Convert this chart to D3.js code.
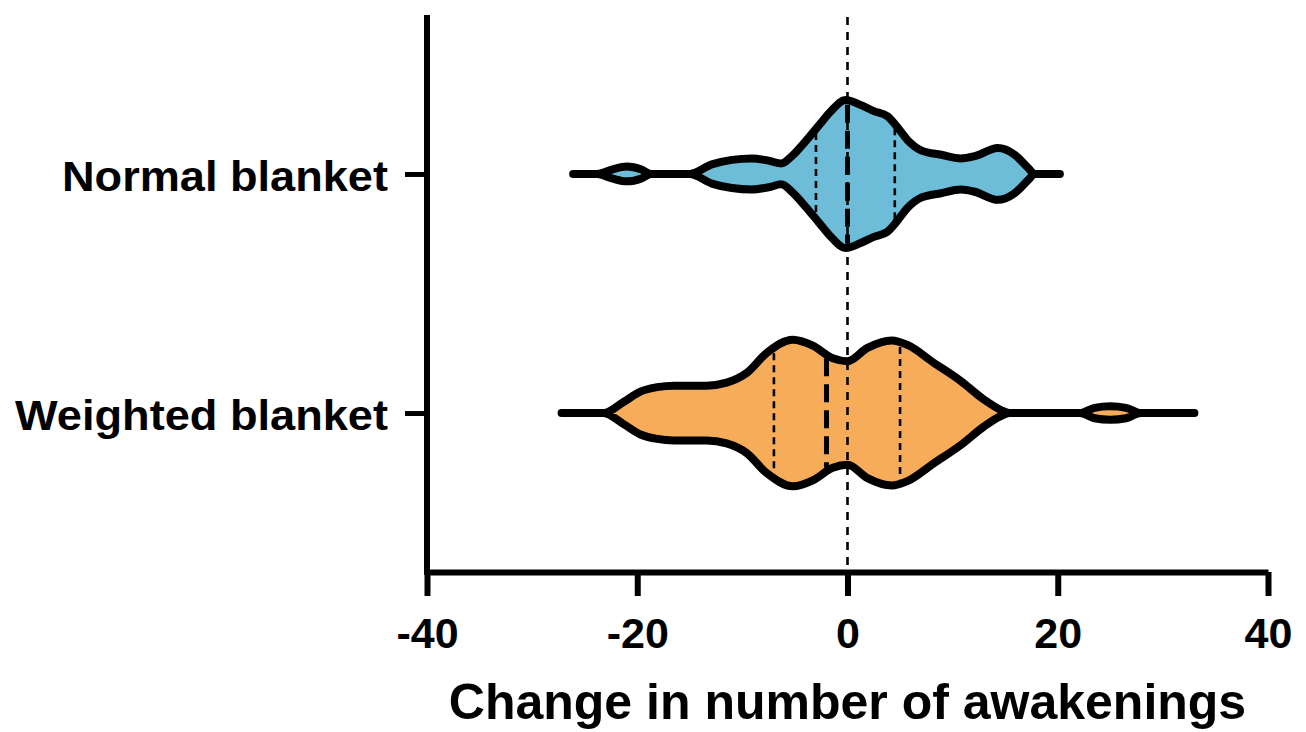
<!DOCTYPE html>
<html>
<head>
<meta charset="utf-8">
<script src="https://cdn.jsdelivr.net/npm/d3@7"></script>
<style>
  html, body { margin: 0; padding: 0; background: #fff; }
  svg { display: block; }
  text { font-family: "Liberation Sans", Arial, Helvetica, sans-serif; font-weight: bold; fill: #000; }
</style>
</head>
<body>
<svg id="chart" width="1306" height="732"></svg>
<script>
// ---------- data ----------
const categories = ["Normal blanket", "Weighted blanket"];
const xTicks = [-40, -20, 0, 20, 40];
const xTitle = "Change in number of awakenings";

// violin density profiles (value, relative density)
const normalPos     = [-26.1, -23.8, -22.4, -21.0, -19.6, -18.7, -15.0, -12.9, -11.0, -9.1, -7.5, -6.3, -5.3, -4.0, -2.7, -1.5, -0.2, 1.3, 2.5, 3.8, 4.7, 5.7, 7.0, 8.9, 10.8, 12.1, 14.3, 15.9, 17.2, 17.8, 20.2];
const normalDensity = [0, 0, 0.06, 0.10, 0.06, 0, 0, 0.13, 0.19, 0.21, 0.18, 0.14, 0.24, 0.44, 0.66, 0.86, 1.00, 0.93, 0.85, 0.78, 0.64, 0.46, 0.32, 0.26, 0.21, 0.24, 0.35, 0.26, 0.08, 0, 0];
const weightedPos     = [-27.2, -23.2, -21.3, -19.7, -18.1, -16.5, -13.4, -11.5, -9.6, -7.7, -5.2, -3.3, -1.4, 0, 1.9, 4.2, 5.7, 8.2, 10.8, 13.0, 14.6, 15.4, 22.1, 23.5, 25.0, 26.5, 27.9, 33.0];
const weightedDensity = [0, 0, 0.15, 0.29, 0.35, 0.37, 0.37, 0.41, 0.54, 0.81, 0.99, 0.91, 0.74, 0.70, 0.88, 0.98, 0.92, 0.68, 0.43, 0.18, 0.04, 0, 0, 0.07, 0.09, 0.07, 0, 0];

// quartiles: [Q1, median, Q3]
const normalQuartiles = [-3, 0, 4.5];
const weightedQuartiles = [-7, -2, 5];

const series = [
  { name: categories[0], pos: normalPos, dens: normalDensity, q: normalQuartiles, color: "#6EBDD8" },
  { name: categories[1], pos: weightedPos, dens: weightedDensity, q: weightedQuartiles, color: "#F7AC5A" }
];

// ---------- layout ----------
const svg = d3.select("#chart");
const mLeft = 427, mRight = 1268, mTop = 15, mBottom = 572;
const outline = 8;

const x = d3.scaleLinear().domain([-40, 40]).range([mLeft, mRight]);
const y = d3.scalePoint().domain(categories).range([mTop, mBottom]).padding(0.665);
const w = d3.scaleLinear().domain([0, 1]).range([0, 74]);

function densAt(pos, dens, v) {
  const i = d3.bisectLeft(pos, v);
  if (i <= 0) return dens[0];
  if (i >= pos.length) return dens[dens.length - 1];
  const t = (v - pos[i - 1]) / (pos[i] - pos[i - 1]);
  return dens[i - 1] + t * (dens[i] - dens[i - 1]);
}

// violins
series.forEach(s => {
  const cy = y(s.name);
  const pts = s.pos.map((p, i) => [p, s.dens[i]]);
  const area = d3.area()
    .x(d => x(d[0]))
    .y0(d => cy + w(d[1]))
    .y1(d => cy - w(d[1]))
    .curve(d3.curveMonotoneX);
  svg.append("path")
    .attr("d", area(pts))
    .attr("fill", s.color)
    .attr("stroke", "#000")
    .attr("stroke-width", outline)
    .attr("stroke-linejoin", "round")
    .attr("stroke-linecap", "round");

  s.q.forEach((qv, qi) => {
    const hw = Math.max(0, w(densAt(s.pos, s.dens, qv)) - outline / 2);
    const isMed = qi === 1;
    svg.append("line")
      .attr("x1", x(qv)).attr("x2", x(qv))
      .attr("y1", cy - hw).attr("y2", cy + hw)
      .attr("stroke", "#000")
      .attr("stroke-width", isMed ? 5 : 2.6)
      .attr("stroke-dasharray", isMed ? "18,8" : "7,5");
  });
});

// zero reference line
svg.append("line")
  .attr("x1", x(0)).attr("x2", x(0))
  .attr("y1", mTop + 2).attr("y2", mBottom)
  .attr("stroke", "#000")
  .attr("stroke-width", 2.6)
  .attr("stroke-dasharray", "8,7");

// x axis
const xAxis = svg.append("g")
  .attr("transform", `translate(0,${mBottom})`)
  .call(d3.axisBottom(x).tickValues(xTicks).tickSize(24).tickSizeOuter(0).tickPadding(21));
xAxis.select(".domain").attr("stroke-width", 6).attr("stroke", "#000");
xAxis.selectAll(".tick line").attr("stroke-width", 6).attr("stroke", "#000");
xAxis.selectAll(".tick text")
  .style("font-size", "43px")
  .style("font-family", '"Liberation Sans", Arial, sans-serif')
  .style("font-weight", "bold")
  .attr("fill", "#000")
  .text(d => d < 0 ? "-" + Math.abs(d) : String(d));

// y axis
const yAxis = svg.append("g")
  .attr("transform", `translate(${mLeft},0)`)
  .call(d3.axisLeft(y).tickSize(22).tickSizeOuter(0).tickPadding(17));
yAxis.select(".domain").attr("stroke-width", 6).attr("stroke", "#000")
  .attr("d", `M0,${mTop}V${mBottom + 3}`);
yAxis.selectAll(".tick line").attr("stroke-width", 5).attr("stroke", "#000");
const labelWidths = { "Normal blanket": 326, "Weighted blanket": 373 };
yAxis.selectAll(".tick text")
  .style("font-size", "42px")
  .style("font-family", '"Liberation Sans", Arial, sans-serif')
  .style("font-weight", "bold")
  .attr("fill", "#000")
  .attr("dy", "0.4em")
  .attr("textLength", d => labelWidths[d])
  .attr("lengthAdjust", "spacingAndGlyphs");

// x title
svg.append("text")
  .attr("x", x(0))
  .attr("y", 719)
  .attr("text-anchor", "middle")
  .style("font-size", "50px")
  .text(xTitle);
</script>
</body>
</html>
